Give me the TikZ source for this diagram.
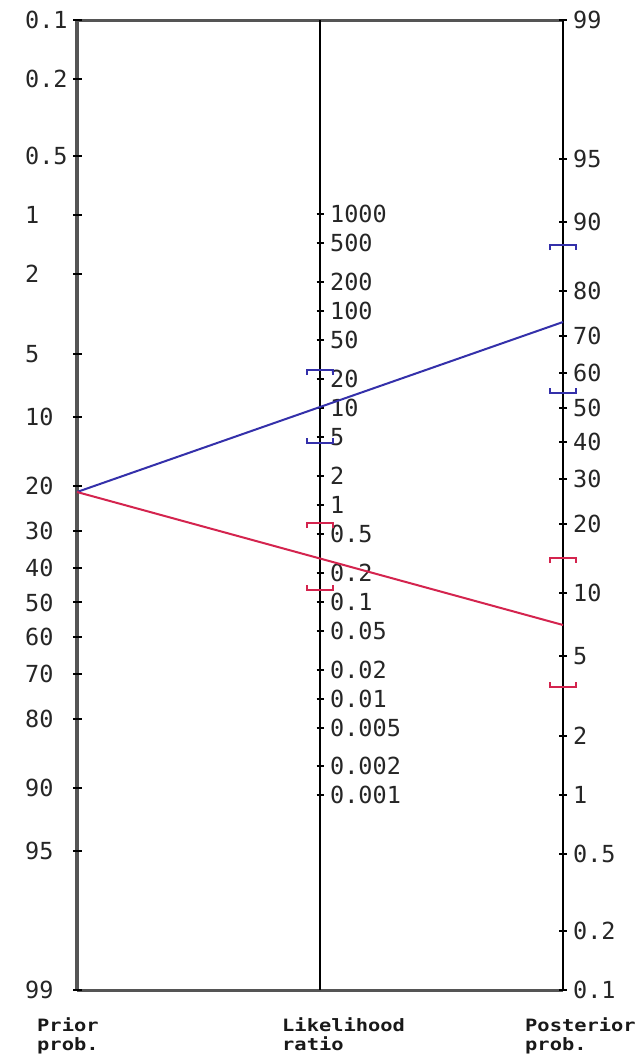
\documentclass[tikz,border=0pt]{standalone}
\usepackage{fontspec}
\newfontfamily\numfont{DejaVu Sans Mono}
\newfontfamily\captfont[FakeStretch=1.2]{DejaVu Sans Mono}
\definecolor{lrpos}{RGB}{52,48,170}
\definecolor{lrneg}{RGB}{212,36,78}
\definecolor{axisgray}{RGB}{85,85,85}
\begin{document}
\begin{tikzpicture}[x=1pt,y=-1pt,
	declare function={ypre(\p)=20+(ln(\p)-ln(100-\p)+6.9068)*84.334;
		ypost(\p)=20+(4.5951-ln(\p)+ln(100-\p))*84.334;
		ylr(\r)=20+(11.5019-ln(\r))*42.167;}]
	        \tikzstyle{preaxis}=[line width=3.5pt,axisgray]
	    	\tikzstyle{axis}=[line width=2pt,black]
	    	\tikzstyle{frame}=[line width=3pt,axisgray]
	    	\tikzstyle{tickmark}=[line width=2pt,black]
    		\tikzstyle{numlabel}=[anchor=west,inner sep=0pt,text=black!85,font=\numfont\fontsize{23.5}{25}\selectfont]
    		\tikzstyle{caption}=[anchor=north west,inner sep=0pt,align=left,text=black!90,font=\captfont\bfseries\fontsize{17}{19.5}\selectfont]
	    	\tikzstyle{testline}=[line width=2pt]
	    	\tikzstyle{cibar}=[line width=2pt]

	    	\useasboundingbox[fill=white] (0,0) rectangle (643,1061);

	    	\coordinate (pretop) at (77,20);
	    	\coordinate (prebot) at (77,990);
	    	\coordinate (lrtop) at (320,20);
	    	\coordinate (lrbot) at (320,990);
	    	\coordinate (posttop) at (563,20);
	    	\coordinate (postbot) at (563,990);

	    	\draw[frame] (pretop) -- (posttop);
	    	\draw[frame] (prebot) -- (postbot);
	    	\draw[preaxis] (pretop) -- (prebot);
	    	\draw[axis] (lrtop) -- (lrbot);
	    	\draw[axis] (posttop) -- (postbot);

	    	\foreach \p [count=\i] in {0.1,0.2,0.5,1,2,5,10,20,30,40,50,60,70,80,90,95,99} {
	    		\draw[tickmark] (73,{ypre(\p)}) -- (82,{ypre(\p)});
	    		\node[numlabel] (pre\i) at (25,{ypre(\p)}) {\p};
	    	}
	    	\foreach \r [count=\i] in {1000,500,200,100,50,20,10,5,2,1,0.5,0.2,0.1,0.05,0.02,0.01,0.005,0.002,0.001} {
	    		\draw[tickmark] (316.5,{ylr(\r)}) -- (323.5,{ylr(\r)});
	    		\node[numlabel] (lr\i) at (330,{ylr(\r)}) {\r};
	    	}
	    	\foreach \p [count=\i] in {99,95,90,80,70,60,50,40,30,20,10,5,2,1,0.5,0.2,0.1} {
	    		\draw[tickmark] (559,{ypost(\p)}) -- (567,{ypost(\p)});
	    		\node[numlabel] (post\i) at (573,{ypost(\p)}) {\p};
	    	}

	    	\node[caption] (priorcap) at (37,1017) {Prior\\prob.};
	    	\node[caption] (lrcap) at (282,1017) {Likelihood\\ratio};
	    	\node[caption] (postcap) at (525,1017) {Posterior\\prob.};

	    	\coordinate (prior) at (77,492);
	    	\coordinate (postpos) at (563,322);
	    	\coordinate (postneg) at (563,625);
	    	\draw[testline,lrpos] (prior) -- (postpos);
	    	\draw[testline,lrneg] (prior) -- (postneg);

	    	\foreach \x/\y/\d/\c in {320/370/1/lrpos,320/443/-1/lrpos,563/245/1/lrpos,563/393/-1/lrpos,
	    		320/523/1/lrneg,320/590/-1/lrneg,563/558/1/lrneg,563/687/-1/lrneg}
	    		\draw[cibar,\c] (\x-13,\y+5*\d) -- (\x-13,\y) -- (\x+13,\y) -- (\x+13,\y+5*\d);
	    \end{tikzpicture}
\end{document}
